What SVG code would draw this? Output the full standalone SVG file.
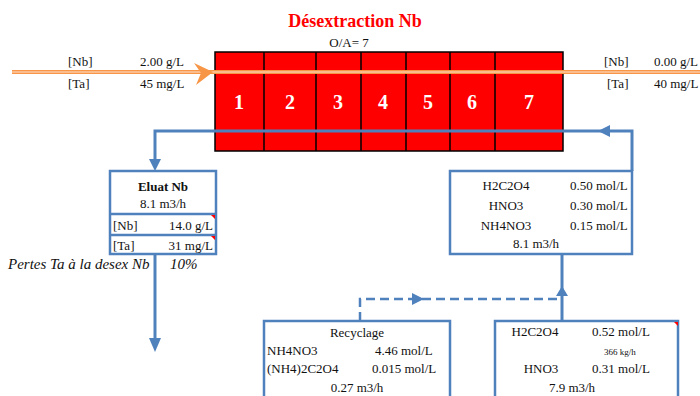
<svg xmlns="http://www.w3.org/2000/svg" width="700" height="396" viewBox="0 0 700 396" font-family="Liberation Serif">
<style>
text{font-size:13px;fill:#111}
.title{font-size:18px;font-weight:bold;fill:#ff0000}
.num{font-size:20px;font-weight:bold;fill:#fff}
.small{font-size:9px}
.bold{font-weight:bold}
.box{fill:#fff;stroke:#4f81bd;stroke-width:2.5}
.blue{fill:none;stroke:#4f81bd;stroke-width:3}
.dash{fill:none;stroke:#4f81bd;stroke-width:2.5;stroke-dasharray:9 5}
.ah{fill:#4f81bd}
.cell{fill:#ff0000;stroke:#000;stroke-width:1.5}
.it{font-style:italic;font-size:15px}
.c{text-anchor:middle}
.r{text-anchor:end}
.tri{fill:#ff0000}
</style>
<g id="title">
<text class="title c" x="355" y="27">Désextraction Nb</text>
<text class="c" x="349" y="47">O/A= 7</text>
</g>
<g id="mixer-settler">
<rect class="cell" x="215" y="52" width="348" height="99"/>
<line x1="264" y1="52" x2="264" y2="151" stroke="#000" stroke-width="1.5"/>
<line x1="316" y1="52" x2="316" y2="151" stroke="#000" stroke-width="1.5"/>
<line x1="361" y1="52" x2="361" y2="151" stroke="#000" stroke-width="1.5"/>
<line x1="406" y1="52" x2="406" y2="151" stroke="#000" stroke-width="1.5"/>
<line x1="450" y1="52" x2="450" y2="151" stroke="#000" stroke-width="1.5"/>
<line x1="495" y1="52" x2="495" y2="151" stroke="#000" stroke-width="1.5"/>
<text class="num c" x="239" y="109">1</text>
<text class="num c" x="290" y="109">2</text>
<text class="num c" x="338" y="109">3</text>
<text class="num c" x="383" y="109">4</text>
<text class="num c" x="428" y="109">5</text>
<text class="num c" x="472" y="109">6</text>
<text class="num c" x="529" y="109">7</text>
</g>
<g id="feed-labels">
<text x="68" y="66">[Nb]</text>
<text x="140" y="66">2.00 g/L</text>
<text x="68" y="88">[Ta]</text>
<text x="140" y="88">45 mg/L</text>
</g>
<g id="raffinate-labels">
<text x="604" y="66">[Nb]</text>
<text x="654" y="66">0.00 g/L</text>
<text x="607" y="88">[Ta]</text>
<text x="654" y="88">40 mg/L</text>
</g>
<g id="connectors">
<line x1="12" y1="72" x2="700" y2="72" stroke="#f79646" stroke-width="4"/>
<line x1="12" y1="72" x2="700" y2="72" stroke="#fde3cf" stroke-width="1"/>
<polygon points="194,63 213,72 196,85 201,73" fill="#f79646"/>
<polyline class="blue" points="632,171 632,131 155,131 155,162"/>
<polygon class="ah" points="149,159 161,159 155,171"/>
<polygon class="ah" points="598,131 610,125 610,137"/>
<polyline class="blue" points="155,254 155,340"/>
<polygon class="ah" points="149,338 161,338 155,352"/>
<line class="blue" x1="562" y1="254" x2="562" y2="321"/>
<polygon class="ah" points="556,296 568,296 562,286"/>
<polyline class="dash" points="360,321 360,299 562,299"/>
<polygon class="ah" points="412,293 412,305 424,299"/>
</g>
<g id="eluat">
<rect class="box" x="110" y="171" width="106" height="83"/>
<line x1="110" y1="214" x2="216" y2="214" stroke="#4f81bd" stroke-width="2.5"/>
<line x1="110" y1="235" x2="216" y2="235" stroke="#4f81bd" stroke-width="2.5"/>
<text class="c bold" x="163" y="191">Eluat Nb</text>
<text class="c" x="163" y="208">8.1 m3/h</text>
<text x="113" y="230">[Nb]</text>
<text class="r" x="213" y="230">14.0 g/L</text>
<text x="113" y="250">[Ta]</text>
<text class="r" x="213" y="250">31 mg/L</text>
<polygon class="tri" points="211,215 215,215 215,219"/>
<polygon class="tri" points="211,236 215,236 215,240"/>
</g>
<g id="pertes">
<text class="it" x="8" y="269">Pertes Ta à la desex Nb</text>
<text class="it" x="170" y="269">10%</text>
</g>
<g id="strip-feed">
<rect class="box" x="450" y="171" width="182" height="83"/>
<text class="c" x="506" y="190">H2C2O4</text>
<text x="570" y="190">0.50 mol/L</text>
<text class="c" x="506" y="210">HNO3</text>
<text x="570" y="210">0.30 mol/L</text>
<text class="c" x="506" y="230">NH4NO3</text>
<text x="570" y="230">0.15 mol/L</text>
<text class="c" x="536" y="248">8.1 m3/h</text>
</g>
<g id="recyclage">
<rect class="box" x="264" y="321" width="186" height="80"/>
<text class="c" x="357" y="337">Recyclage</text>
<text x="267" y="355">NH4NO3</text>
<text x="375" y="355">4.46 mol/L</text>
<text x="267" y="373">(NH4)2C2O4</text>
<text x="372" y="373">0.015 mol/L</text>
<text class="c" x="357" y="392">0.27 m3/h</text>
</g>
<g id="fresh-feed">
<rect class="box" x="495" y="321" width="183" height="80"/>
<text class="c" x="535" y="336">H2C2O4</text>
<text class="c" x="621" y="336">0.52 mol/L</text>
<text class="c small" x="620" y="355">366 kg/h</text>
<text class="c" x="541" y="373">HNO3</text>
<text class="c" x="621" y="373">0.31 mol/L</text>
<text class="c" x="572" y="392">7.9 m3/h</text>
<polygon class="tri" points="674,322 678,322 678,326"/>
</g>
</svg>
